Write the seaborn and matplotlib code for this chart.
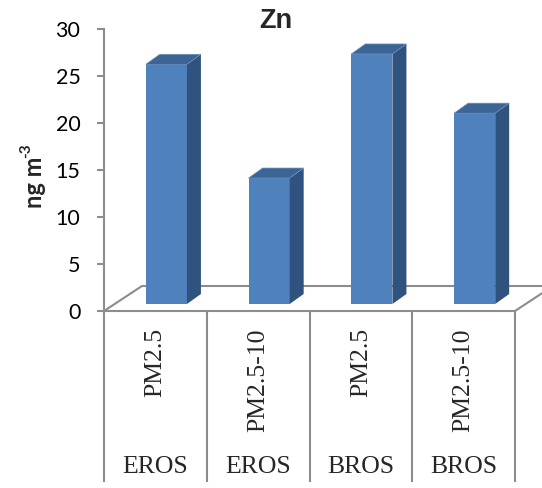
import matplotlib
matplotlib.use("Agg")
import matplotlib.pyplot as plt
import pandas as pd
import seaborn as sns
from matplotlib.patches import Polygon
from matplotlib.transforms import ScaledTranslation, blended_transform_factory

# Zn concentrations by site and size fraction
sites = ["EROS", "EROS", "BROS", "BROS"]
fractions = ["PM2.5", "PM2.5-10", "PM2.5", "PM2.5-10"]
zn = [25.5, 13.4, 26.6, 20.3]
yticks = [0, 5, 10, 15, 20, 25, 30]

keys = [f"{s} {f}" for s, f in zip(sites, fractions)]
df = pd.DataFrame({"key": keys, "zn": zn})

sns.set_style("white")
plt.rcParams["font.family"] = ["Lato", "DejaVu Sans"]

DPI = 100
W, H = 542, 488
GRAY = "#8c8c8c"
FRONT, TOP, SIDE = "#4F81BD", "#3C6494", "#30527F"

fig = plt.figure(figsize=(W / DPI, H / DPI), dpi=DPI)
ax = fig.add_axes([104 / W, 177 / H, 411 / W, 282 / H])
ax.set_facecolor("none")

sns.barplot(data=df, x="key", y="zn", order=keys, width=0.4, color=FRONT,
            saturation=1, errorbar=None, ax=ax, zorder=3)
ax.set_xlim(-0.5, 3.5)
ax.set_ylim(0, 30)

# size of one pixel in data units
inv = ax.transData.inverted()
o = inv.transform((0, 0))
p = inv.transform((1, 1))
sx, sy = p[0] - o[0], p[1] - o[1]

# floor of the 3-D box
fdx, fdy = 38 * sx, 25 * sy
floor = Polygon([(-0.5, 0), (3.5, 0), (3.5 + fdx, fdy), (-0.5 + fdx, fdy)],
                closed=True, facecolor="white", edgecolor=GRAY, lw=1.5,
                clip_on=False, zorder=1)
ax.add_patch(floor)

# bars sit in the middle of the floor depth
shift = ax.transData + ScaledTranslation(11 / DPI, 7 / DPI, fig.dpi_scale_trans)
bdx, bdy = 14 * sx, 10 * sy
for bar in list(ax.patches):
    if bar is floor:
        continue
    x0, w, h = bar.get_x(), bar.get_width(), bar.get_height()
    x1 = x0 + w
    bar.set_transform(shift)
    bar.set_clip_on(False)
    bar.set_edgecolor("none")
    side = Polygon([(x1, 0), (x1 + bdx, bdy), (x1 + bdx, h + bdy), (x1, h)],
                   closed=True, facecolor=SIDE, edgecolor="none",
                   transform=shift, clip_on=False, zorder=3)
    top = Polygon([(x0, h), (x0 + bdx, h + bdy), (x1 + bdx, h + bdy), (x1, h)],
                  closed=True, facecolor=TOP, edgecolor="#6f8fb8", lw=0.5,
                  transform=shift, clip_on=False, zorder=3)
    ax.add_patch(side)
    ax.add_patch(top)

# axes styling
for s in ["top", "right", "bottom"]:
    ax.spines[s].set_visible(False)
ax.spines["left"].set_color(GRAY)
ax.spines["left"].set_linewidth(1.5)
ax.set_yticks(yticks)
ax.tick_params(axis="y", left=True, length=5, width=1.5, color=GRAY,
               pad=12, labelsize=15.5, labelcolor="black")
ax.set_xticks([])
ax.set_xlabel("")
ax.set_ylabel("")

# category table under the floor
tr = blended_transform_factory(ax.transData, ax.transAxes)
ax.vlines([-0.5, 0.5, 1.5, 2.5, 3.5], 0, -171 / 282, colors=GRAY, lw=1.5,
          transform=tr, clip_on=False)
for i, (s, f) in enumerate(zip(sites, fractions)):
    ax.text(i, -17 / 282, f, rotation=90, ha="center", va="top",
            transform=tr, family="Liberation Serif", fontsize=18.5)
    ax.text(i, -156 / 282, s, ha="center", va="center",
            transform=tr, family="Liberation Serif", fontsize=18.5)

# y-axis unit with a raised exponent
fig.text(35 / W, 1 - 208 / H, "ng m", rotation=90, ha="center", va="bottom",
         fontsize=17, fontweight="bold")
fig.text(26 / W, 1 - 158 / H, "-3", rotation=90, ha="center", va="bottom",
         fontsize=11, fontweight="bold")
fig.text(276 / W, 1 - 21 / H, "Zn", ha="center", va="center",
         family="Liberation Sans", fontsize=19.5, fontweight="bold")

fig.savefig("out.png", dpi=DPI)
